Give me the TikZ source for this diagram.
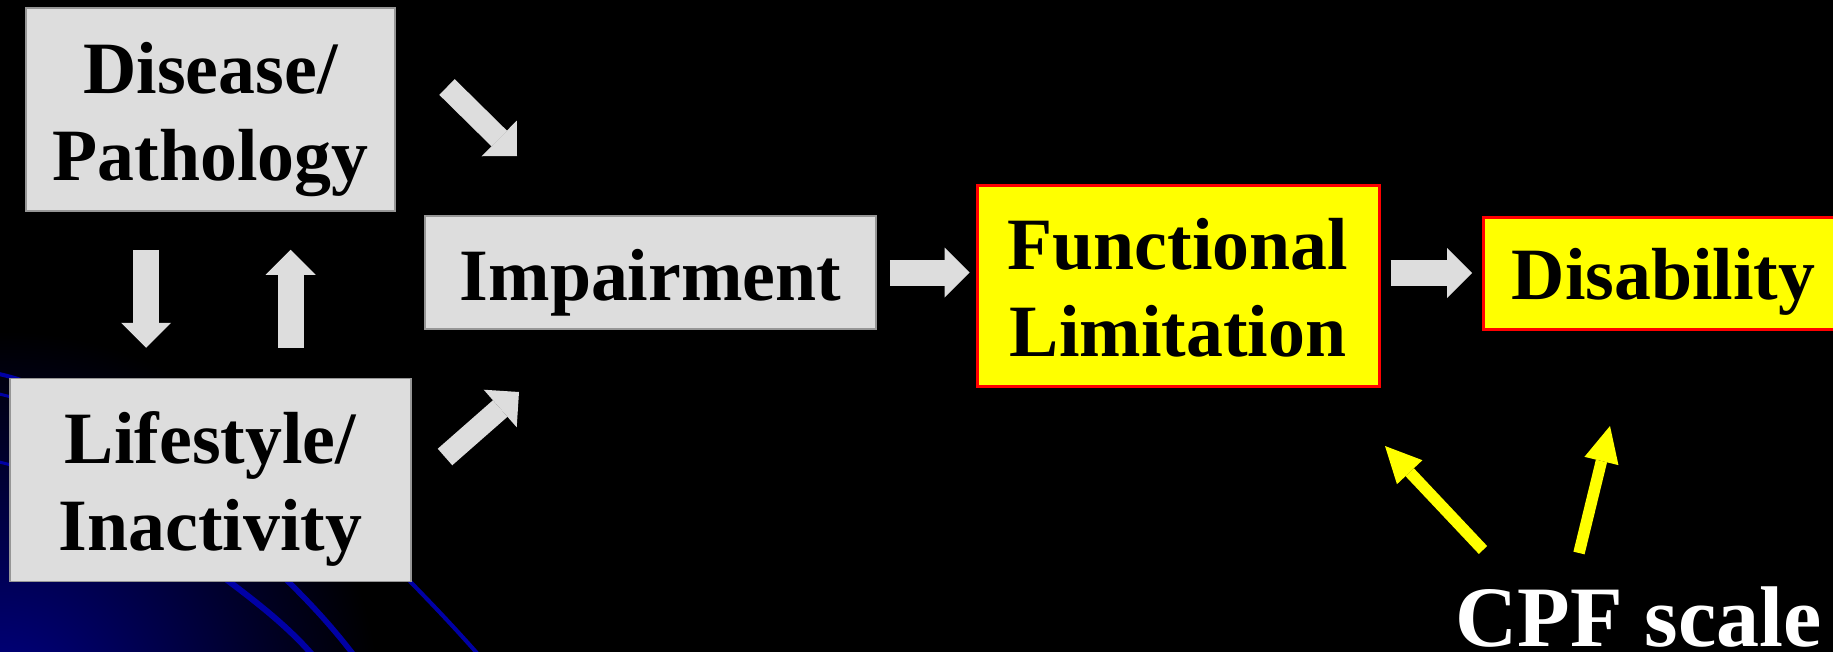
\documentclass[tikz,border=0pt]{standalone}
\usepackage{fontspec}
\setmainfont{Liberation Serif}
\usetikzlibrary{arrows.meta,positioning}
\definecolor{boxgrey}{RGB}{221,221,221}
\definecolor{boxedge}{RGB}{150,150,150}
\definecolor{hiyellow}{RGB}{255,255,0}
\definecolor{hired}{RGB}{255,0,0}
\definecolor{cornerblue}{RGB}{0,0,135}
\definecolor{lineblue}{RGB}{0,0,165}
\tikzset{
  greybox/.style={draw=boxedge, fill=boxgrey, line width=0.15mm, align=center, inner sep=0pt, font=\bfseries\fontsize{21}{24.8}\selectfont},
  yellowbox/.style={draw=hired, fill=hiyellow, line width=0.3mm, align=center, inner sep=0pt, font=\bfseries\fontsize{21}{24.8}\selectfont},
  greyarrow/.style={draw=boxgrey, line width=2.6mm, -{Triangle[length=2.5mm,width=5mm,line width=0pt]}},
  slantarrow/.style={draw=boxgrey, line width=2.2mm, -{Triangle[length=2.5mm,width=5mm,line width=0pt]}},
  yellowarrow/.style={draw=hiyellow, line width=1.15mm, -{Triangle[length=3.6mm,width=3.5mm,line width=0pt]}},
  bgline/.style={draw=lineblue, line width=0.5mm}
}
\begin{document}
\begin{tikzpicture}[x=0.1mm, y=0.1mm]
\path[use as bounding box] (0,0) rectangle (1833,651);
% slide background
\fill[black] (-20,-20) rectangle (1853,671);
\clip (0,0) rectangle (1833,651);
\shade[inner color=cornerblue, outer color=black] (0,-60) circle (38mm);
\draw[bgline, line width=0.6mm] (180,106) .. controls (250,54) and (290,26) .. (325,-19);
\draw[bgline, line width=0.55mm] (250,106) .. controls (290,68) and (325,36) .. (365,-19);
\draw[bgline, line width=0.4mm] (360,121) .. controls (400,79) and (440,41) .. (490,-17);
\draw[bgline, line width=0.4mm] (-5,278) .. controls (20,272) .. (60,255);
\draw[bgline, line width=0.3mm] (-5,258) .. controls (20,252) .. (60,235);
\draw[bgline, line width=0.3mm] (-5,190) .. controls (20,184) .. (60,168);
% boxes
\node[greybox, minimum width=36.9mm, minimum height=20.3mm] (disease) at (210.5,541.5) {\rule{0pt}{7.1mm}Disease/\\Pathology};
\node[greybox, minimum width=40.1mm, minimum height=20.3mm, below=16.6mm of disease] (lifestyle) {\rule{0pt}{7mm}Lifestyle/\\Inactivity};
\node[greybox, minimum width=45.1mm, minimum height=11.3mm, text height=7mm, text depth=1.5mm] (impair) at (650.5,378.5) {Impairment};
\node[yellowbox, minimum width=40.2mm, minimum height=20.1mm] (funclim) at (1178,365.5) {\rule{0pt}{5.5mm}Functional\\Limitation};
\node[yellowbox, minimum width=36mm, minimum height=11.2mm, text height=6.7mm, text depth=1.5mm, anchor=west] (disab) at (1482,378) {Disability};
\node[anchor=base west, inner sep=0pt, text=white, font=\bfseries\fontsize{24.5}{28}\selectfont] (cpf) at (1455,5) {CPF scale};
% free arrow ends
\coordinate (dis-tail) at (447,564);
\coordinate (dis-tip) at (517,495);
\coordinate (life-tail) at (445,194);
\coordinate (life-tip) at (519,259);
\coordinate (cpf-a) at (1483,101);
\coordinate (cpf-fl) at (1385,205);
\coordinate (cpf-b) at (1579,98);
\coordinate (cpf-dis) at (1610,225);
% arrows
\draw[greyarrow, shorten <=3.8mm, shorten >=3mm] ([xshift=-6.45mm]disease.south) -- ([xshift=-6.45mm]lifestyle.north);
\draw[greyarrow, shorten <=3mm, shorten >=3.8mm] ([xshift=8mm]lifestyle.north) -- ([xshift=8mm]disease.south);
\draw[slantarrow] (dis-tail) -- (dis-tip);
\draw[slantarrow] (life-tail) -- (life-tip);
\draw[greyarrow, shorten <=1.3mm, shorten >=0.6mm] (impair.east) -- (impair.east -| funclim.west);
\draw[greyarrow, shorten <=1mm, shorten >=1mm] (funclim.east |- disab.west) -- (disab.west);
\draw[yellowarrow] (cpf-a) -- (cpf-fl);
\draw[yellowarrow] (cpf-b) -- (cpf-dis);
\end{tikzpicture}
\end{document}
